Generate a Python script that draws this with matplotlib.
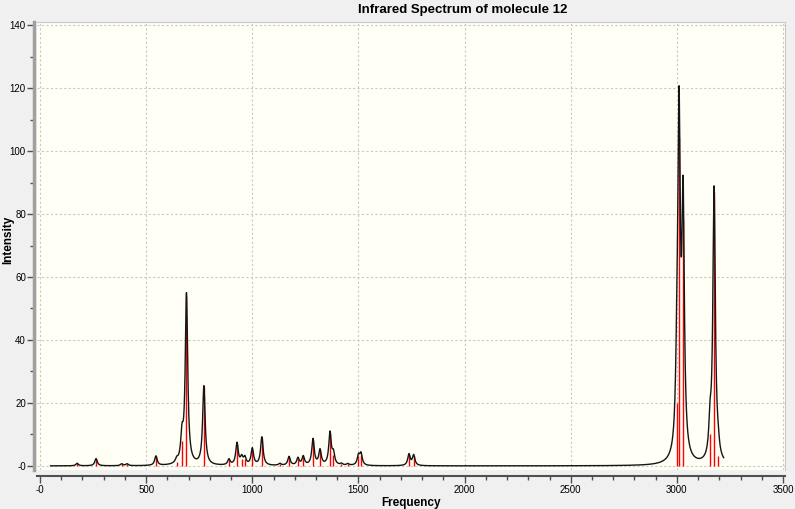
import numpy as np
import matplotlib.pyplot as plt
from matplotlib.ticker import MultipleLocator

# stick spectrum (frequency in cm-1, intensity)
freqs = [175, 264, 385, 410, 546, 644, 669, 690, 772, 890, 928, 950, 965,
         1000, 1045, 1130, 1173, 1215, 1240, 1286, 1319, 1366, 1382, 1420,
         1450, 1500, 1512, 1738, 1760, 3000, 3010, 3029, 3156, 3175, 3194]
intens = [0.8, 2.3, 0.6, 0.6, 3.0, 1.2, 8.0, 54.0, 25.0, 1.8, 7.0, 2.3, 2.3,
          5.3, 9.0, 0.6, 2.8, 2.3, 2.8, 8.3, 4.8, 10.3, 3.5, 0.5,
          0.5, 3.0, 3.6, 3.6, 3.3, 20.0, 104.6, 78.5, 10.0, 87.0, 3.0]

x_ticks = [0, 500, 1000, 1500, 2000, 2500, 3000, 3500]
x_labels = ["-0", "500", "1000", "1500", "2000", "2500", "3000", "3500"]
y_ticks = [0, 20, 40, 60, 80, 100, 120, 140]
y_labels = ["-0", "20", "40", "60", "80", "100", "120", "140"]

# Lorentzian broadening of the sticks
hwhm = 7.0
grid = np.arange(50, 3221, 1.0)
f = np.array(freqs, dtype=float)
s = np.array(intens)
curve = (s[None, :] * hwhm**2 / ((grid[:, None] - f[None, :])**2 + hwhm**2)).sum(axis=1)

plt.rcParams['font.family'] = ['Liberation Sans', 'DejaVu Sans']

fig = plt.figure(figsize=(7.95, 5.09), dpi=100, facecolor='#f0f0f0')
ax = fig.add_axes([37 / 795, 1 - 470 / 509, 748 / 795, 448 / 509])
ax.set_facecolor('#fffff6')

ax.vlines(freqs, 0, intens, color='red', lw=1.0, zorder=2)
ax.plot(grid, curve, color='#151515', lw=1.0, zorder=3)

ax.set_xlim(-14, 3509)
ax.set_ylim(-1.3, 141)

ax.set_xticks(x_ticks)
ax.set_xticklabels(x_labels)
ax.set_yticks(y_ticks)
ax.set_yticklabels(y_labels)
ax.xaxis.set_minor_locator(MultipleLocator(100))
ax.yaxis.set_minor_locator(MultipleLocator(10))
ax.tick_params(axis='both', which='major', labelsize=7, length=5, width=1, color='#505050')
ax.tick_params(axis='both', which='minor', length=3, width=1, color='#505050')
ax.tick_params(axis='x', pad=2)
ax.tick_params(axis='y', pad=1)

ax.grid(True, which='major', linestyle=(0, (2, 2)), color='#c8c8c8', lw=0.8)

for side in ['top', 'right']:
    ax.spines[side].set_color('#c8c8c8')
    ax.spines[side].set_linewidth(0.8)
ax.spines['left'].set_position(('outward', 2))
ax.spines['left'].set_color('#a0a0a0')
ax.spines['left'].set_linewidth(2.5)
ax.spines['bottom'].set_position(('outward', 4))
ax.spines['bottom'].set_color('#505050')
ax.spines['bottom'].set_linewidth(1.5)

ax.set_xlabel('Frequency', fontsize=8.5, fontweight='bold', labelpad=1)
fig.text(8 / 795, 1 - 240 / 509, 'Intensity', rotation=90,
         ha='center', va='center', fontsize=8.5, fontweight='bold')
fig.text(463 / 795, 1 - 10 / 509, 'Infrared Spectrum of molecule 12',
         ha='center', va='center', fontsize=9.5, fontweight='bold')

fig.savefig('out.png', dpi=100, facecolor=fig.get_facecolor())
